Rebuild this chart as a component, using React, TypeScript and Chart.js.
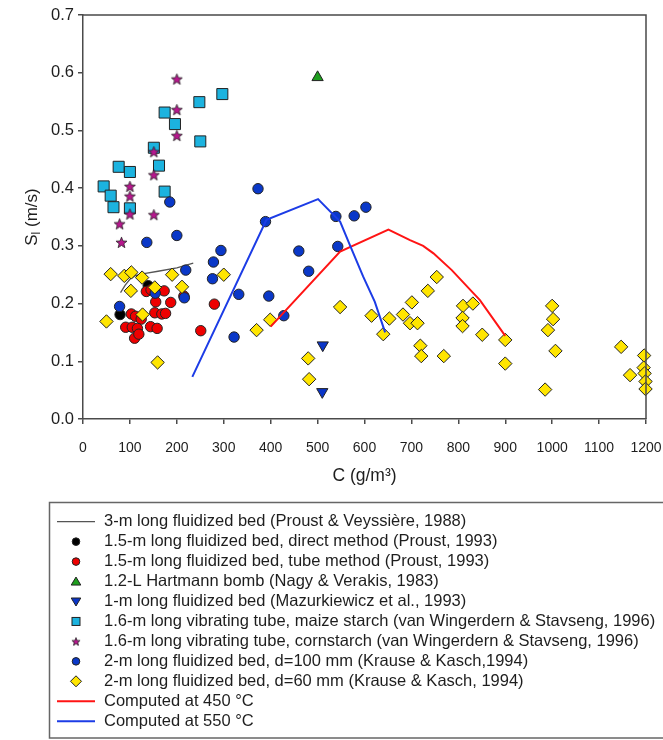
import React, { useEffect, useRef } from 'react';
import { Chart, registerables } from 'chart.js';

Chart.register(...registerables);

// ---------- data ----------
const X_TICKS = [0, 100, 200, 300, 400, 500, 600, 700, 800, 900, 1000, 1100, 1200];
const Y_TICKS = [0.0, 0.1, 0.2, 0.3, 0.4, 0.5, 0.6, 0.7];

const LABELS = [
  '3-m long fluidized bed (Proust & Veyssière, 1988)',
  '1.5-m long fluidized bed, direct method (Proust, 1993)',
  '1.5-m long fluidized bed, tube method (Proust, 1993)',
  '1.2-L Hartmann bomb (Nagy & Verakis, 1983)',
  '1-m long fluidized bed (Mazurkiewicz et al., 1993)',
  '1.6-m long vibrating tube, maize starch (van Wingerdern & Stavseng, 1996)',
  '1.6-m long vibrating tube, cornstarch (van Wingerdern & Stavseng, 1996)',
  '2-m long fluidized bed, d=100 mm (Krause & Kasch,1994)',
  '2-m long fluidized bed, d=60 mm (Krause & Kasch, 1994)',
  'Computed at 450 °C',
  'Computed at 550 °C',
];

const bed3mX = [80, 90, 100, 110, 130, 160, 200, 235];
const bed3mY = [0.219, 0.232, 0.242, 0.248, 0.252, 0.256, 0.262, 0.270];

const directX = [79, 139];
const directY = [0.181, 0.231];

const tubeX = [135, 145, 173, 155, 187, 103, 112, 124, 153, 168, 176, 91, 105, 116, 110, 119, 144, 158, 251, 280, 215];
const tubeY = [0.221, 0.224, 0.222, 0.203, 0.202, 0.182, 0.178, 0.173, 0.184, 0.182, 0.183, 0.159, 0.159, 0.157, 0.140, 0.147, 0.160, 0.157, 0.153, 0.199, 0.213];

const hartmannX = [500];
const hartmannY = [0.592];

const mazurX = [511, 510];
const mazurY = [0.128, 0.047];

const maizeX = [44, 59, 65, 76, 100, 100, 151, 162, 174, 174, 196, 250, 248, 297];
const maizeY = [0.403, 0.387, 0.367, 0.437, 0.428, 0.365, 0.470, 0.439, 0.394, 0.531, 0.511, 0.481, 0.549, 0.563];

const cornX = [200, 200, 200, 151, 151, 151, 100, 100, 100, 78, 82];
const cornY = [0.589, 0.536, 0.491, 0.463, 0.423, 0.354, 0.403, 0.386, 0.355, 0.338, 0.306];

const d100X = [78, 136, 154, 185, 200, 219, 216, 276, 278, 294, 322, 332, 373, 389, 396, 428, 460, 481, 539, 543, 578, 603];
const d100Y = [0.195, 0.306, 0.218, 0.376, 0.318, 0.258, 0.210, 0.243, 0.272, 0.292, 0.142, 0.216, 0.399, 0.342, 0.213, 0.179, 0.291, 0.256, 0.351, 0.299, 0.352, 0.367];

const d60X = [50, 59, 88, 103, 102, 126, 127, 153, 159, 190, 211, 300, 370, 399, 480, 482, 548, 615, 640, 653, 682, 701, 697, 713, 719, 721, 735, 754, 769, 810, 831, 809, 809, 851, 900, 900, 985, 991, 1000, 1002, 1007, 1147, 1166, 1196, 1195, 1197, 1199, 1199];
const d60Y = [0.169, 0.251, 0.248, 0.254, 0.222, 0.245, 0.181, 0.228, 0.098, 0.250, 0.229, 0.250, 0.154, 0.172, 0.105, 0.069, 0.194, 0.179, 0.147, 0.174, 0.181, 0.202, 0.166, 0.166, 0.127, 0.109, 0.222, 0.246, 0.109, 0.196, 0.200, 0.175, 0.161, 0.146, 0.137, 0.096, 0.051, 0.154, 0.196, 0.173, 0.118, 0.125, 0.076, 0.110, 0.089, 0.079, 0.065, 0.052];

const calc450X = [400, 548, 651, 697, 725, 747, 786, 832, 846, 900];
const calc450Y = [0.160, 0.290, 0.328, 0.310, 0.300, 0.287, 0.258, 0.218, 0.206, 0.144];

const calc550X = [233, 391, 501, 548, 570, 597, 622, 644];
const calc550Y = [0.073, 0.345, 0.381, 0.342, 0.299, 0.247, 0.203, 0.150];

// ---------- helpers ----------
const pts = (xs: number[], ys: number[]) => xs.map((x, i) => ({ x, y: ys[i] }));

function makeStar(size: number, fill: string): HTMLCanvasElement {
  const c = document.createElement('canvas');
  c.width = size;
  c.height = size;
  const g = c.getContext('2d')!;
  const cx = size / 2, cy = size / 2 + 0.5;
  const R = size / 2 - 0.7, r = R * 0.42;
  g.beginPath();
  for (let i = 0; i < 10; i++) {
    const rad = i % 2 === 0 ? R : r;
    const a = -Math.PI / 2 + (i * Math.PI) / 5;
    const px = cx + rad * Math.cos(a), py = cy + rad * Math.sin(a);
    if (i === 0) g.moveTo(px, py); else g.lineTo(px, py);
  }
  g.closePath();
  g.fillStyle = fill;
  g.fill();
  g.lineWidth = 0.8;
  g.strokeStyle = '#222';
  g.stroke();
  return c;
}

const FONT = '"Liberation Sans", Arial, Helvetica, sans-serif';
const INK = '#1e1e1e';
const AXIS = '#4a4a4a';

export default function App() {
  const ref = useRef<HTMLCanvasElement>(null);

  useEffect(() => {
    const star = makeStar(13, '#b8168e');
    const starSmall = makeStar(10, '#b8168e');
    const mk = '#222';

    const datasets: any[] = [
      { label: LABELS[0], data: pts(bed3mX, bed3mY), showLine: true, borderColor: '#555', borderWidth: 1.3, pointRadius: 0, lg: 'line' },
      { label: LABELS[1], data: pts(directX, directY), pointStyle: 'circle', pointRadius: 5.2, backgroundColor: '#000', borderColor: mk, borderWidth: 1, lg: 'circle' },
      { label: LABELS[2], data: pts(tubeX, tubeY), pointStyle: 'circle', pointRadius: 5.2, backgroundColor: '#ee0000', borderColor: mk, borderWidth: 1, lg: 'circle' },
      { label: LABELS[3], data: pts(hartmannX, hartmannY), pointStyle: 'triangle', pointRadius: 6.5, backgroundColor: '#1e9e1e', borderColor: mk, borderWidth: 1, lg: 'triangle' },
      { label: LABELS[4], data: pts(mazurX, mazurY), pointStyle: 'triangle', rotation: 180, pointRadius: 6.5, backgroundColor: '#0a35c8', borderColor: mk, borderWidth: 1, lg: 'triangleDown' },
      { label: LABELS[5], data: pts(maizeX, maizeY), pointStyle: 'rect', pointRadius: 7.8, backgroundColor: '#1cb3df', borderColor: mk, borderWidth: 1, lg: 'rect' },
      { label: LABELS[6], data: pts(cornX, cornY), pointStyle: star, pointRadius: 6.5, backgroundColor: '#b8168e', borderColor: mk, borderWidth: 1, lg: 'star' },
      { label: LABELS[7], data: pts(d100X, d100Y), pointStyle: 'circle', pointRadius: 5.2, backgroundColor: '#0a38c8', borderColor: mk, borderWidth: 1, lg: 'circle' },
      { label: LABELS[8], data: pts(d60X, d60Y), pointStyle: 'rectRot', pointRadius: 6.7, backgroundColor: '#ffe500', borderColor: mk, borderWidth: 1, lg: 'diamond' },
      { label: LABELS[9], data: pts(calc450X, calc450Y), showLine: true, borderColor: '#ff1414', borderWidth: 2, pointRadius: 0, lg: 'line' },
      { label: LABELS[10], data: pts(calc550X, calc550Y), showLine: true, borderColor: '#1c3ce6', borderWidth: 2, pointRadius: 0, lg: 'line' },
    ];
    datasets.forEach((d, i) => {
      d.order = 20 - i;
      d.clip = false;
      d.tension = 0;
      d.fill = false;
      d.pointHoverRadius = d.pointRadius;
    });

    const framePlugin = {
      id: 'frame',
      afterDraw(chart: any) {
        const { ctx, chartArea: a } = chart;
        ctx.save();
        ctx.strokeStyle = AXIS;
        ctx.lineWidth = 1.5;
        ctx.beginPath();
        ctx.moveTo(a.left, a.top);
        ctx.lineTo(a.right, a.top);
        ctx.lineTo(a.right, a.bottom);
        ctx.stroke();

        // Y axis title with subscript
        ctx.fillStyle = INK;
        ctx.translate(32, (a.top + a.bottom) / 2);
        ctx.rotate(-Math.PI / 2);
        ctx.textBaseline = 'middle';
        const big = `17px ${FONT}`;
        const small = `12px ${FONT}`;
        const s1 = 'S';
        const s3 = ' (m/s)';
        ctx.font = big;
        const w1 = ctx.measureText(s1).width;
        const w3 = ctx.measureText(s3).width;
        ctx.font = small;
        const w2 = ctx.measureText('l').width;
        const total = w1 + w2 + w3;
        let x = -total / 2;
        ctx.textAlign = 'left';
        ctx.font = big;
        ctx.fillText(s1, x, 0);
        x += w1;
        ctx.font = small;
        ctx.fillText('l', x, 5);
        x += w2;
        ctx.font = big;
        ctx.fillText(s3, x, 0);
        ctx.restore();
      },
    };

    const legendPlugin = {
      id: 'boxLegend',
      afterDraw(chart: any) {
        const { ctx } = chart;
        ctx.save();
        ctx.strokeStyle = '#666';
        ctx.lineWidth = 1.5;
        ctx.strokeRect(49.5, 502.5, 700, 235.5);
        const x0 = 76;
        const tx = 104;
        const y0 = 521.7;
        const dy = 19.95;
        chart.data.datasets.forEach((d: any, i: number) => {
          const y = y0 + dy * i;
          ctx.save();
          ctx.lineWidth = 1;
          ctx.strokeStyle = '#222';
          ctx.fillStyle = d.backgroundColor;
          switch (d.lg) {
            case 'line':
              ctx.strokeStyle = d.borderColor;
              ctx.lineWidth = d.borderWidth;
              ctx.beginPath();
              ctx.moveTo(57, y);
              ctx.lineTo(95, y);
              ctx.stroke();
              break;
            case 'circle':
              ctx.beginPath();
              ctx.arc(x0, y, 3.8, 0, Math.PI * 2);
              ctx.fill();
              ctx.stroke();
              break;
            case 'triangle':
              ctx.beginPath();
              ctx.moveTo(x0, y - 4.5);
              ctx.lineTo(x0 + 4.8, y + 3.5);
              ctx.lineTo(x0 - 4.8, y + 3.5);
              ctx.closePath();
              ctx.fill();
              ctx.stroke();
              break;
            case 'triangleDown':
              ctx.beginPath();
              ctx.moveTo(x0, y + 4.5);
              ctx.lineTo(x0 + 4.8, y - 3.5);
              ctx.lineTo(x0 - 4.8, y - 3.5);
              ctx.closePath();
              ctx.fill();
              ctx.stroke();
              break;
            case 'rect':
              ctx.fillRect(x0 - 4, y - 4, 8, 8);
              ctx.strokeRect(x0 - 4, y - 4, 8, 8);
              break;
            case 'star':
              ctx.drawImage(starSmall, x0 - 5, y - 5);
              break;
            case 'diamond':
              ctx.beginPath();
              ctx.moveTo(x0, y - 5.5);
              ctx.lineTo(x0 + 5.5, y);
              ctx.lineTo(x0, y + 5.5);
              ctx.lineTo(x0 - 5.5, y);
              ctx.closePath();
              ctx.fill();
              ctx.stroke();
              break;
          }
          ctx.restore();
          ctx.fillStyle = INK;
          ctx.font = `16.5px ${FONT}`;
          ctx.textBaseline = 'middle';
          ctx.textAlign = 'left';
          ctx.fillText(d.label, tx, y);
        });
        ctx.restore();
      },
    };

    const chart = new Chart(ref.current!, {
      type: 'scatter',
      data: { datasets },
      options: {
        animation: false,
        responsive: false,
        events: [],
        layout: { padding: { left: 0, right: 17, top: 15, bottom: 250 } },
        plugins: {
          legend: { display: false },
          tooltip: { enabled: false },
        },
        scales: {
          x: {
            type: 'linear',
            min: 0,
            max: 1200,
            afterBuildTicks: (s: any) => { s.ticks = X_TICKS.map((v) => ({ value: v })); },
            afterFit: (s: any) => { s.height = 71; s.paddingLeft = 0; s.paddingRight = 10; },
            ticks: { color: INK, font: { family: FONT, size: 14 }, padding: 16, maxRotation: 0, autoSkip: false, callback: (v: any) => String(v) },
            grid: { display: true, drawOnChartArea: false, drawTicks: true, tickLength: 5, color: AXIS, lineWidth: 1.5 },
            border: { display: true, color: AXIS, width: 1.5 },
            title: { display: true, text: 'C (g/m³)', color: INK, font: { family: FONT, size: 17.5 }, padding: { top: 0, bottom: 3 } },
          },
          y: {
            type: 'linear',
            min: 0,
            max: 0.7,
            afterBuildTicks: (s: any) => { s.ticks = Y_TICKS.map((v) => ({ value: v })); },
            afterFit: (s: any) => { s.width = 83; },
            ticks: { color: INK, font: { family: FONT, size: 16.5 }, padding: 4, callback: (v: any) => Number(v).toFixed(1) },
            grid: { display: true, drawOnChartArea: false, drawTicks: true, tickLength: 5, color: AXIS, lineWidth: 1.5 },
            border: { display: true, color: AXIS, width: 1.5 },
          },
        },
      } as any,
      plugins: [framePlugin, legendPlugin],
    });
    return () => chart.destroy();
  }, []);

  return (
    <div style={{ position: 'fixed', left: 0, top: 0, width: 663, height: 740, background: '#fff' }}>
      <canvas ref={ref} width={663} height={740} style={{ display: 'block', width: 663, height: 740 }} />
    </div>
  );
}
